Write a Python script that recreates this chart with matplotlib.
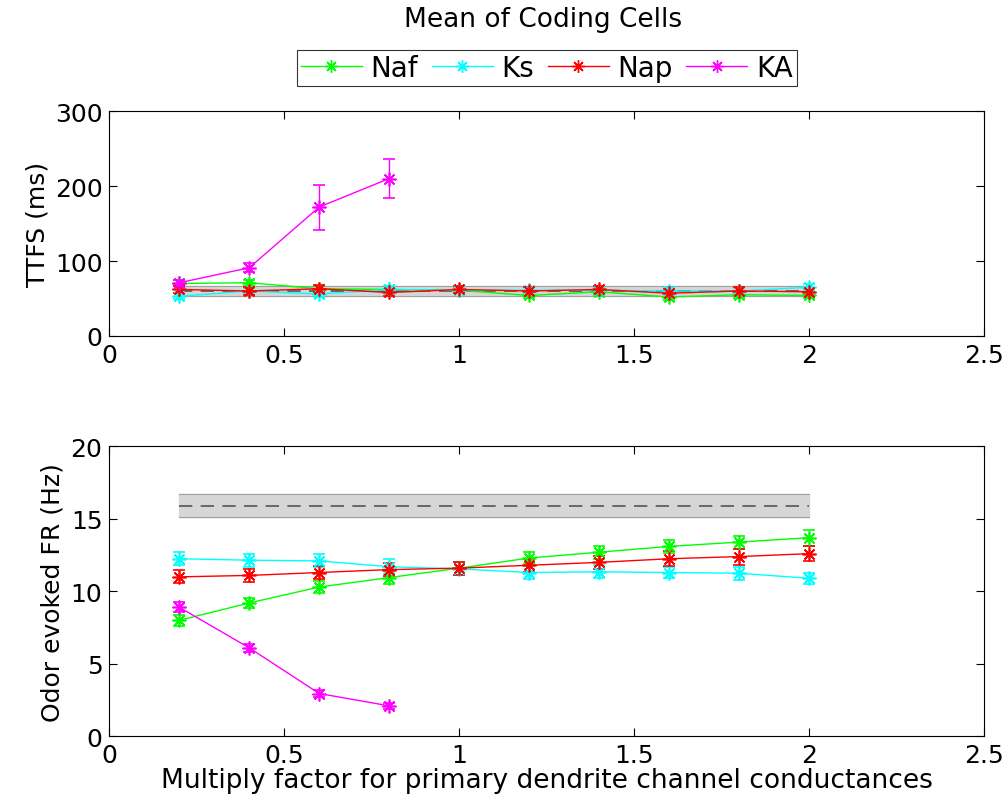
import matplotlib
matplotlib.use("Agg")
import matplotlib.pyplot as plt
from matplotlib.lines import Line2D

plt.rcParams['font.family'] = ['DejaVu Sans']

x = [0.2, 0.4, 0.6, 0.8, 1.0, 1.2, 1.4, 1.6, 1.8, 2.0]
x_ka = [0.2, 0.4, 0.6, 0.8]

# TTFS (ms)
ttfs_naf = [70, 71, 63, 62, 61, 54, 59, 52, 55, 54]
ttfs_naf_err = [4, 4, 4, 4, 4, 4, 4, 4, 4, 4]
ttfs_ks = [53, 60, 56, 62, 61, 61, 61, 60, 60, 65]
ttfs_ks_err = [4, 4, 4, 4, 4, 4, 4, 4, 4, 4]
ttfs_nap = [62, 60, 63, 58, 62, 60, 62, 57, 60, 59]
ttfs_nap_err = [5, 5, 5, 5, 5, 5, 5, 5, 5, 5]
ttfs_ka = [71, 91, 172, 210]
ttfs_ka_err = [3, 6, 30, 26]
ttfs_ctrl_mean = 60
ttfs_ctrl_lo, ttfs_ctrl_hi = 53, 66

# Odor evoked FR (Hz)
fr_naf = [8.0, 9.2, 10.3, 10.95, 11.6, 12.3, 12.7, 13.1, 13.4, 13.7]
fr_naf_err = [0.4, 0.35, 0.4, 0.45, 0.45, 0.4, 0.45, 0.45, 0.45, 0.55]
fr_ks = [12.25, 12.15, 12.1, 11.7, 11.55, 11.3, 11.35, 11.3, 11.25, 10.9]
fr_ks_err = [0.45, 0.45, 0.45, 0.5, 0.45, 0.45, 0.45, 0.4, 0.45, 0.4]
fr_nap = [11.0, 11.1, 11.3, 11.5, 11.6, 11.8, 12.0, 12.25, 12.4, 12.6]
fr_nap_err = [0.45, 0.45, 0.45, 0.45, 0.45, 0.45, 0.45, 0.5, 0.55, 0.5]
fr_ka = [8.9, 6.1, 2.95, 2.1]
fr_ka_err = [0.35, 0.3, 0.25, 0.2]
fr_ctrl_mean = 15.9
fr_ctrl_lo, fr_ctrl_hi = 15.1, 16.7

names = ['Naf', 'Ks', 'Nap', 'KA']
colors = ['#00ff00', '#00ffff', '#ff0000', '#ff00ff']
AST = (8, 2, 0)

fig = plt.figure(figsize=(10.03, 8.12), dpi=100)
ax1 = fig.add_axes([0.109, 0.585, 0.872, 0.277])
ax2 = fig.add_axes([0.109, 0.092, 0.872, 0.357])

def draw(ax, series, ctrl):
    mean, lo, hi = ctrl
    ax.fill_between([0.2, 2.0], [lo, lo], [hi, hi], color='#d6d6d6', zorder=1)
    ax.plot([0.2, 2.0], [lo, lo], color='#a0a0a0', lw=0.8, zorder=1.1)
    ax.plot([0.2, 2.0], [hi, hi], color='#a0a0a0', lw=0.8, zorder=1.1)
    ax.plot([0.2, 2.0], [mean, mean], color='#555555', lw=1.2, ls=(0, (8, 5)), zorder=1.2)
    for (xs, ys, es), c, n in zip(series, colors, names):
        ax.errorbar(xs, ys, yerr=es, color=c, marker=AST, markersize=10, lw=1.0,
                    markeredgewidth=1.2, capsize=4, elinewidth=1.0, capthick=1.0,
                    label=n, zorder=3)

def style(ax, ylim, yticks):
    ax.set_xlim(0, 2.5)
    ax.set_ylim(*ylim)
    ax.set_xticks([0, 0.5, 1, 1.5, 2, 2.5])
    ax.set_xticklabels(['0', '0.5', '1', '1.5', '2', '2.5'])
    ax.set_yticks(yticks)
    ax.tick_params(direction='in', top=True, right=True, labelsize=18, length=6, pad=5)
    for s in ax.spines.values():
        s.set_linewidth(0.8)

draw(ax1, [(x, ttfs_naf, ttfs_naf_err), (x, ttfs_ks, ttfs_ks_err),
           (x, ttfs_nap, ttfs_nap_err), (x_ka, ttfs_ka, ttfs_ka_err)],
     (ttfs_ctrl_mean, ttfs_ctrl_lo, ttfs_ctrl_hi))
style(ax1, (0, 300), [0, 100, 200, 300])
ax1.set_ylabel('TTFS (ms)', fontsize=18, labelpad=4)

draw(ax2, [(x, fr_naf, fr_naf_err), (x, fr_ks, fr_ks_err),
           (x, fr_nap, fr_nap_err), (x_ka, fr_ka, fr_ka_err)],
     (fr_ctrl_mean, fr_ctrl_lo, fr_ctrl_hi))
style(ax2, (0, 20), [0, 5, 10, 15, 20])
ax2.set_ylabel('Odor evoked FR (Hz)', fontsize=18, labelpad=4)
ax2.set_xlabel('Multiply factor for primary dendrite channel conductances', fontsize=19, labelpad=0)

fig.text(0.541, 0.975, 'Mean of Coding Cells', ha='center', va='center', fontsize=19)
lh = [Line2D([], [], color=c, marker=AST, markersize=9, lw=1.0) for c in colors]
leg = fig.legend(lh, names, loc='center', bbox_to_anchor=(0.545, 0.915), ncol=4,
                 fontsize=20, frameon=True, fancybox=False, edgecolor='black',
                 handlelength=2.2, handletextpad=0.3, columnspacing=0.5,
                 borderpad=0.15, borderaxespad=0)
leg.get_frame().set_linewidth(0.8)

fig.savefig('out.png', dpi=100)
